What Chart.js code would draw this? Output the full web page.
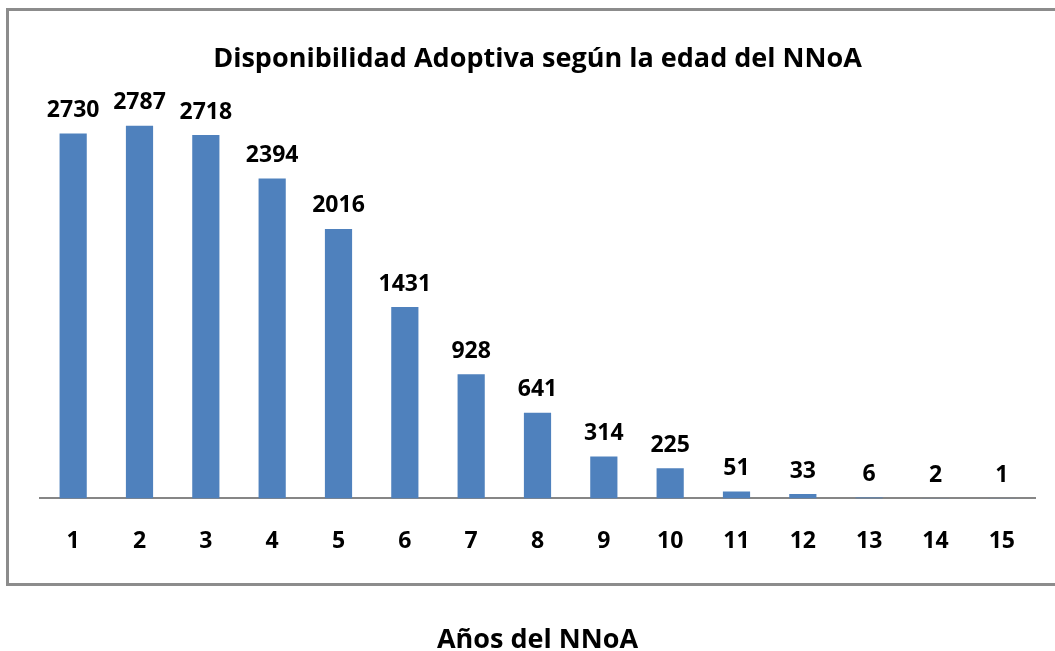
<!DOCTYPE html>
<html>
<head>
<meta charset="utf-8">
<script src="https://cdn.jsdelivr.net/npm/chart.js@4.4.0/dist/chart.umd.min.js"></script>
<style>
  html, body { margin: 0; padding: 0; background: #fff; }
  #wrap { width: 1055px; height: 651px; position: relative; }
</style>
</head>
<body>
<div id="wrap"><canvas id="myChart" width="1055" height="651"></canvas></div>
<script>
// Edad del NNoA (años) y disponibilidad adoptiva
const edades = ['1', '2', '3', '4', '5', '6', '7', '8', '9', '10', '11', '12', '13', '14', '15'];
const disponibilidad = [2730, 2787, 2718, 2394, 2016, 1431, 928, 641, 314, 225, 51, 33, 6, 2, 1];

const FONT = '"Open Sans", "DejaVu Sans", sans-serif';

// Frame round the chart (the axis title sits outside it)
const framePlugin = {
  id: 'frame',
  beforeDraw(chart) {
    const ctx = chart.ctx;
    ctx.save();
    ctx.strokeStyle = '#8c8c8c';
    ctx.lineWidth = 3;
    ctx.strokeRect(7.5, 9.5, 1060, 575);
    ctx.restore();
  }
};

// Value labels above each bar
const valueLabels = {
  id: 'valueLabels',
  afterDatasetsDraw(chart) {
    const ctx = chart.ctx;
    const meta = chart.getDatasetMeta(0);
    ctx.save();
    ctx.font = 'bold 23px ' + FONT;
    ctx.fillStyle = '#000';
    ctx.textAlign = 'center';
    ctx.textBaseline = 'middle';
    meta.data.forEach((bar, i) => {
      ctx.fillText(String(chart.data.datasets[0].data[i]), bar.x, bar.y - 23);
    });
    ctx.restore();
  }
};

const ctx = document.getElementById('myChart').getContext('2d');
new Chart(ctx, {
  type: 'bar',
  data: {
    labels: edades,
    datasets: [{
      label: 'Disponibilidad',
      data: disponibilidad,
      backgroundColor: '#4f81bd',
      borderWidth: 0,
      categoryPercentage: 1,
      barPercentage: 0.41
    }]
  },
  options: {
    responsive: false,
    animation: false,
    layout: {
      padding: { left: 40, right: 20, top: 0, bottom: 0 }
    },
    scales: {
      x: {
        grid: { display: false, drawTicks: false },
        border: { display: true, color: '#868686', width: 2 },
        ticks: {
          color: '#000',
          padding: 29,
          font: { family: FONT, size: 23, weight: 'bold' }
        },
        title: {
          display: true,
          text: 'Años del NNoA',
          color: '#000',
          padding: { top: 43, bottom: -3 },
          font: { family: FONT, size: 27, weight: 'bold', lineHeight: 1 }
        }
      },
      y: {
        display: false,
        min: 0,
        max: 3000
      }
    },
    plugins: {
      legend: { display: false },
      tooltip: { enabled: false },
      title: {
        display: true,
        text: 'Disponibilidad Adoptiva según la edad del NNoA',
        color: '#000',
        padding: { top: 43, bottom: 22 },
        font: { family: FONT, size: 27, weight: 'bold' }
      }
    }
  },
  plugins: [framePlugin, valueLabels]
});
</script>
</body>
</html>
